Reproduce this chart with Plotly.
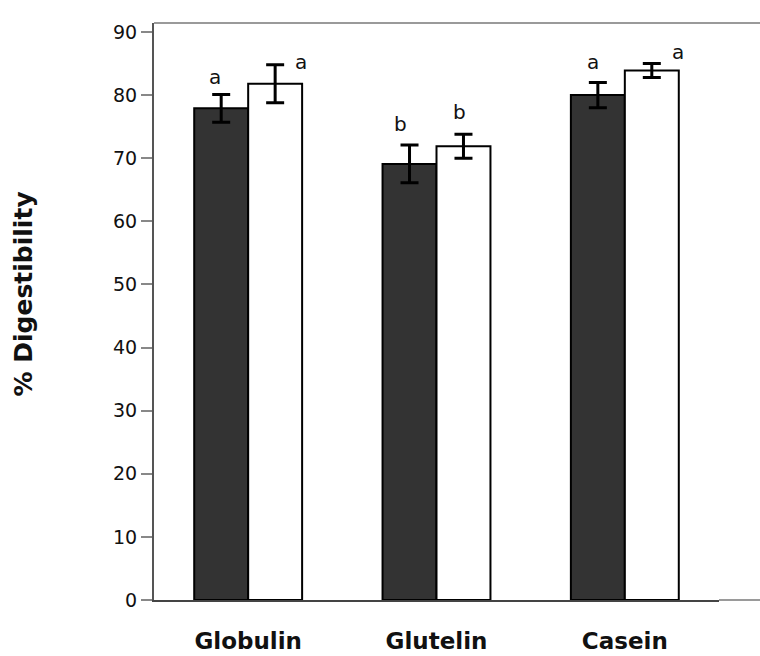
import plotly.graph_objects as go

categories = ["Globulin", "Glutelin", "Casein"]
dark_values = [77.9, 69.1, 80.0]
dark_errors = [2.2, 3.0, 2.0]
white_values = [81.8, 71.9, 83.9]
white_errors = [3.0, 1.9, 1.1]
dark_letters = ["a", "b", "a"]
white_letters = ["a", "b", "a"]
y_ticks = [0, 10, 20, 30, 40, 50, 60, 70, 80, 90]

# letter placement (category-offset, y value)
dark_letter_pos = [(-0.176, 82.8), (-0.19, 75.4), (-0.167, 85.2)]
white_letter_pos = [(0.28, 85.2), (0.12, 77.3), (0.281, 86.8)]

W, H = 760, 656
L, R, T, B = 154, 41, 23, 56

fig = go.Figure()
fig.add_trace(go.Bar(
    x=categories, y=dark_values,
    marker=dict(color="#333333", line=dict(color="#000000", width=2)),
    error_y=dict(type="data", array=dark_errors, color="#000000", thickness=3, width=9),
    showlegend=False,
))
fig.add_trace(go.Bar(
    x=categories, y=white_values,
    marker=dict(color="#ffffff", line=dict(color="#000000", width=2)),
    error_y=dict(type="data", array=white_errors, color="#000000", thickness=3, width=9),
    showlegend=False,
))

annotations = []
for i, c in enumerate(categories):
    for letters, pos in ((dark_letters, dark_letter_pos), (white_letters, white_letter_pos)):
        dx, yv = pos[i]
        annotations.append(dict(
            x=i + dx, y=yv, xref="x", yref="y", text=letters[i], showarrow=False,
            xanchor="center", yanchor="middle",
            font=dict(family="DejaVu Sans", size=20, color="#111111"),
        ))

annotations.append(dict(
    x=(22.5 - L) / (W - L - R), y=(H - B - 294) / (H - B - T),
    xref="paper", yref="paper", text="<b>% Digestibility</b>", showarrow=False,
    textangle=-90, xanchor="center", yanchor="middle",
    font=dict(family="DejaVu Sans", size=25, color="#111111"),
))

ext = (W - L) / (W - L - R)
shapes = [
    dict(type="line", xref="paper", yref="paper", x0=0, x1=ext, y0=1, y1=1,
         line=dict(color="#9a9a9a", width=2)),
    dict(type="line", xref="paper", yref="paper", x0=1, x1=ext, y0=0, y1=0,
         line=dict(color="#9a9a9a", width=2)),
]

fig.update_layout(
    width=W, height=H,
    margin=dict(l=L, r=R, t=T, b=B, pad=0, autoexpand=False),
    paper_bgcolor="#ffffff", plot_bgcolor="#ffffff",
    barmode="group", bargap=0.427, bargroupgap=0,
    annotations=annotations, shapes=shapes,
    xaxis=dict(
        range=[-0.5, 2.5], showgrid=False, zeroline=False, automargin=False,
        showline=True, linecolor="#444444", linewidth=2,
        ticks="", ticklabelstandoff=19,
        tickfont=dict(family="DejaVu Sans", size=23, color="#111111", weight="bold"),
    ),
    yaxis=dict(
        range=[0, (H - B - T) / ((600 - 32) / 90)], showgrid=False, zeroline=False,
        automargin=False,
        showline=True, linecolor="#555555", linewidth=2,
        tickvals=y_ticks, ticktext=[str(v) for v in y_ticks],
        ticks="outside", ticklen=11, tickwidth=2, tickcolor="#888888",
        tickfont=dict(family="DejaVu Sans", size=19, color="#111111"),
    ),
)

fig.write_html(
    "out.html",
    config={"displayModeBar": False},
    post_script="document.body.style.margin='0px';",
)
